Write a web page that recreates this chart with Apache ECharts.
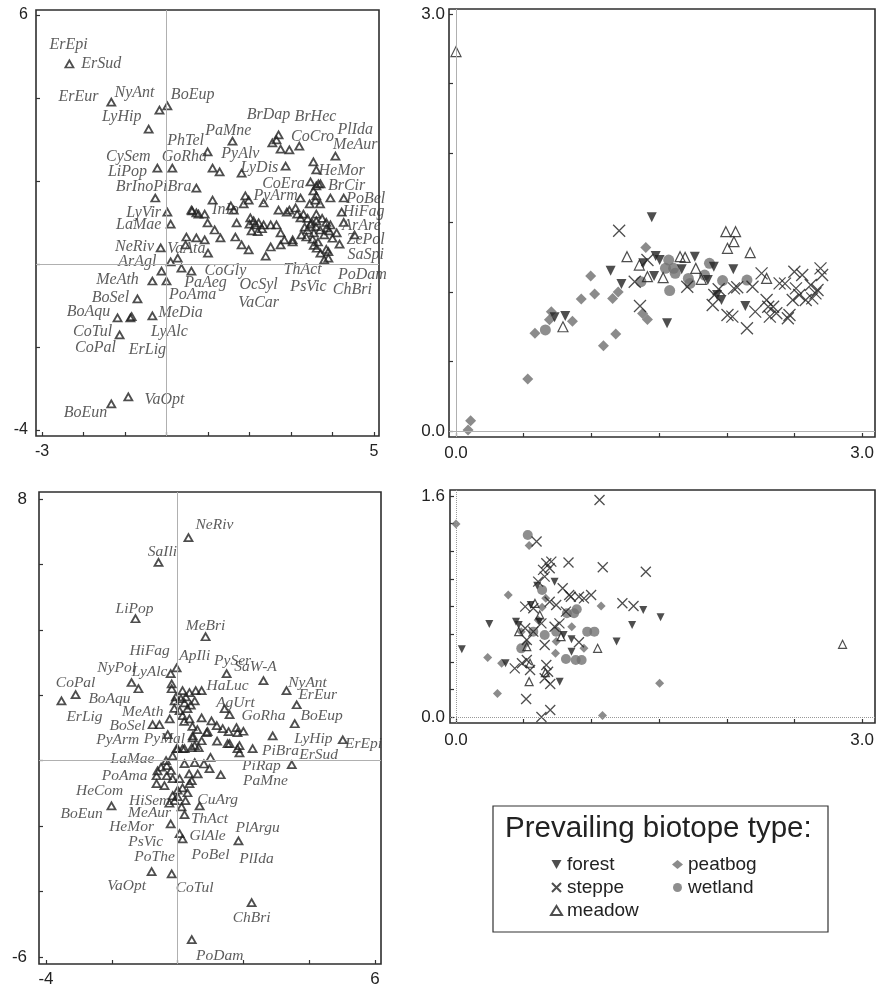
<!DOCTYPE html>
<html><head><meta charset="utf-8">
<script src="https://cdn.jsdelivr.net/npm/echarts@6/dist/echarts.min.js"></script>
<style>html,body{margin:0;padding:0;background:#fff}#c{width:877px;height:993px}</style>
</head><body><div id="c"></div>
<script>
// ---------- Top-left ordination (species, open triangles) ----------
var tlPts = [[-2.34,4.82],[-1.33,3.90],[-0.17,3.71],[0.02,3.81],[-0.43,3.25],[-0.22,2.31],[0.14,2.31],[-0.27,1.59],[0.72,1.83],[0.02,1.25],[0.60,1.30],[0.72,1.23],[0.10,0.96],[0.48,0.65],[-0.14,0.39],[0.27,0.14],[0.10,0.05],[-0.12,-0.17],[0.36,-0.10],[0.60,-0.17],[-0.34,-0.41],[0.0,-0.41],[-0.70,-0.84],[-1.18,-1.30],[-0.87,-1.30],[-0.84,-1.27],[-0.34,-1.25],[-1.13,-1.71],[-0.92,-3.20],[-1.33,-3.37],
[2.70,3.11],[2.65,2.99],[2.55,2.92],[1.59,2.96],[2.75,2.77],[2.96,2.75],[3.20,2.84],[4.07,2.60],[0.99,2.70],[1.11,2.31],[1.28,2.22],[1.81,2.19],[2.87,2.36],[3.54,2.46],[3.61,2.27],[3.47,1.98],[3.61,1.88],[3.66,1.93],[3.71,1.93],[3.54,1.76],[3.61,1.64],[1.90,1.64],[1.98,1.54],[1.86,1.45],[2.34,1.47],[3.23,1.59],[3.59,1.54],[3.95,1.59],[4.27,1.59],[1.11,1.54],[0.62,1.28],[0.77,1.20],[0.92,1.20],[2.96,1.30],[3.11,1.35],[3.15,1.20],[3.23,1.11],[3.61,1.20],[3.61,1.04],[4.22,1.25],[2.02,1.11],[2.10,1.04],[2.14,0.94],[2.00,0.96],[2.22,0.99],[0.99,0.99],[1.16,0.82],[1.69,0.99],[2.34,0.94],[2.51,0.94],[2.65,0.94],[2.75,0.75],[2.84,0.58],[3.04,0.53],[1.66,0.65],[1.30,0.63],[0.72,0.63],[0.92,0.58],[3.33,0.89],[3.47,0.96],[3.40,0.82],[3.55,0.75],[3.70,0.82],[3.80,0.70],[3.52,0.60],[3.65,0.53],[3.95,0.94],[3.86,0.87],[4.27,1.00],[4.53,0.70],[4.17,0.48],[3.71,0.26],[3.90,0.14],[3.90,0.30],[1.81,0.46],[1.98,0.34],[2.51,0.41],[2.39,0.19],[2.75,0.46],[3.04,0.58],[3.37,0.65],[3.25,0.70],[3.80,0.10],[2.05,0.80],[2.20,0.78],[2.30,0.85],[3.30,1.20],[3.40,1.10],[3.50,1.00],[3.60,0.90],[3.75,1.10],[3.85,1.00],[3.92,0.80],[3.55,0.45],[3.62,0.38],[3.85,0.35],[4.00,0.62],[4.10,0.75],[2.70,1.30],[2.90,1.25],[1.55,1.40],[1.62,1.30],[0.46,0.46],[1.00,0.26],[3.45,1.45],[3.70,1.45]];
var tlLabels = [['ErEpi',-2.36,5.28],['ErSud',-1.57,4.82],['ErEur',-2.12,4.02],['NyAnt',-0.77,4.12],['BoEup',0.63,4.07],['LyHip',-1.08,3.54],['PhTel',0.46,2.96],['PaMne',1.49,3.20],['BrDap',2.46,3.59],['BrHec',3.59,3.54],['CoCro',3.52,3.06],['PlIda',4.55,3.23],['MeAur',4.55,2.87],['CySem',-0.92,2.58],['GoRha',0.43,2.58],['PyAlv',1.78,2.65],['LyDis',2.24,2.31],['LiPop',-0.94,2.22],['HeMor',4.22,2.24],['BrInoPiBra',-0.31,1.86],['CoEra',2.82,1.93],['BrCir',4.34,1.88],['PyArm',2.63,1.64],['PoBel',4.80,1.57],['LyVir',-0.55,1.23],['InIo',1.42,1.30],['HiFag',4.75,1.25],['LaMae',-0.67,0.94],['ArAre',4.70,0.92],['ZePol',4.80,0.58],['NeRiv',-0.77,0.41],['VaAta',0.48,0.36],['SaSpi',4.80,0.22],['ArAgl',-0.70,0.05],['CoGly',1.42,-0.17],['ThAct',3.28,-0.14],['PoDam',4.72,-0.27],['MeAth',-1.18,-0.39],['PaAeg',0.94,-0.46],['PsVic',3.42,-0.55],['ChBri',4.48,-0.63],['OcSyl',2.22,-0.51],['PoAma',0.63,-0.75],['BoSel',-1.35,-0.82],['VaCar',2.22,-0.94],['BoAqu',-1.88,-1.16],['MeDia',0.34,-1.18],['CoTul',-1.78,-1.64],['LyAlc',0.07,-1.64],['CoPal',-1.71,-2.02],['ErLig',-0.46,-2.07],['VaOpt',-0.05,-3.28],['BoEun',-1.95,-3.59]];

// ---------- Bottom-left ordination ----------
var blPts = [[0.33,6.82],[-0.58,6.06],[-1.28,4.34],[0.85,3.79],[-0.03,2.84],[-0.21,2.66],[1.49,2.66],[2.61,2.45],[-1.40,2.39],[-1.19,2.20],[3.31,2.14],[-3.10,2.02],[-3.53,1.83],[3.62,1.71],[-0.18,2.35],[1.43,1.59],[1.58,1.41],[3.56,1.13],[2.89,0.76],[5.02,0.64],[0.73,1.31],[1.03,1.22],[1.19,1.07],[1.37,0.98],[1.79,1.01],[1.82,0.86],[1.58,0.52],[1.88,0.46],[2.28,0.37],[1.88,0.24],[0.88,0.86],[-0.18,2.20],[0.15,2.14],[0.36,2.08],[0.55,2.14],[0.73,2.14],[-0.09,1.83],[0.21,1.77],[0.52,1.83],[0.06,1.53],[0.30,1.59],[0.15,1.38],[0.36,1.28],[-0.24,1.28],[-0.76,1.10],[-0.55,1.10],[0.46,0.70],[0.73,0.61],[0,0.37],[0.21,0.37],[0.52,0.46],[0.46,0.76],[0.91,0.89],[1.55,0.89],[1.52,0.52],[1.82,0.37],[-0.03,0.37],[0.15,0.37],[0.43,0.40],[0.64,0.40],[-0.15,0.15],[3.47,-0.12],[0.21,-0.09],[0.52,-0.06],[-0.33,-0.15],[-0.61,-0.31],[0.97,-0.24],[1.31,-0.43],[0.61,-0.40],[-0.64,-0.46],[-0.33,-0.46],[0.06,-0.55],[-0.15,-0.55],[-0.64,-0.70],[-0.40,-0.76],[0.43,-0.61],[0.36,-0.70],[0.15,-0.83],[-0.15,-1.07],[0.30,-0.98],[-2.01,-1.38],[-0.09,-1.22],[0.12,-1.41],[0.24,-1.22],[0.67,-1.38],[0.21,-1.65],[-0.21,-1.93],[0.06,-2.23],[0.15,-2.39],[1.85,-2.45],[-0.79,-3.39],[-0.18,-3.46],[2.25,-4.34],[0.43,-5.47],
[-0.05,1.95],[0.10,1.90],[0.25,1.95],[0.40,1.70],[-0.10,1.60],[0.20,1.20],[0.45,1.05],[0.60,0.95],[-0.30,0.80],[-0.35,0.0],[-0.50,-0.20],[-0.20,-0.30],[0.0,-0.90],[-0.25,-1.30],[0.0,-1.10],[0.35,-0.40],[0.80,-0.10],[1.00,0.10],[1.20,0.60],[2.00,0.90]];
var blLabels = [['NeRiv',1.12,7.22],['SaIli',-0.46,6.39],['LiPop',-1.31,4.65],['MeBri',0.85,4.13],['HiFag',-0.85,3.36],['ApIli',0.52,3.21],['PySer',1.67,3.06],['NyPol',-1.85,2.84],['LyAlc',-0.85,2.72],['SaW-A',2.37,2.87],['CoPal',-3.10,2.39],['BoAqu',-2.07,1.90],['NyAnt',3.95,2.39],['HaLuc',1.52,2.29],['ErEur',4.26,2.02],['ErLig',-2.83,1.35],['AgUrt',1.76,1.77],['MeAth',-1.06,1.50],['GoRha',2.61,1.38],['BoEup',4.38,1.38],['BoSel',-1.52,1.07],['LyHip',4.13,0.67],['ErEpi',5.65,0.52],['PyArm',-1.82,0.64],['PyMal',-0.40,0.67],['PiBra',3.13,0.31],['ErSud',4.29,0.18],['LaMae',-1.37,0.06],['PiRap',2.55,-0.15],['PoAma',-1.61,-0.46],['PaMne',2.67,-0.61],['HeCom',-2.37,-0.92],['HiSem',-0.85,-1.22],['CuArg',1.22,-1.19],['BoEun',-2.92,-1.62],['MeAur',-0.85,-1.59],['ThAct',0.97,-1.77],['HeMor',-1.40,-2.02],['PlArgu',2.43,-2.05],['GlAle',0.91,-2.29],['PsVic',-0.97,-2.48],['PoThe',-0.70,-2.94],['PoBel',1.00,-2.87],['PlIda',2.40,-3.00],['VaOpt',-1.55,-3.82],['CoTul',0.52,-3.88],['ChBri',2.25,-4.80],['PoDam',1.28,-5.96]];

// ---------- Top-right: sites by biotope ----------
var trForest = [[1.446,1.537],[1.142,1.153],[1.222,1.058],[0.807,0.827],[0.728,0.818],[1.475,1.259],[1.504,1.23],[1.383,1.206],[1.463,1.115],[1.667,1.163],[1.764,1.254],[1.904,1.182],[2.048,1.163],[1.86,1.086],[1.961,0.942],[1.928,0.978],[1.559,0.775],[2.137,0.899]];
var trSteppe = [[1.205,1.441],[1.414,1.23],[1.32,1.074],[1.359,0.899],[1.708,1.038],[1.908,0.978],[1.896,0.906],[2.005,0.835],[2.041,0.823],[2.053,1.026],[2.077,1.034],[2.149,0.739],[2.21,0.859],[2.257,1.134],[2.294,0.942],[2.306,0.894],[2.318,0.823],[2.342,0.894],[2.39,1.062],[2.463,0.835],[2.451,0.811],[2.499,1.146],[2.557,1.122],[2.511,1.026],[2.535,0.978],[2.487,0.942],[2.583,0.942],[2.631,0.954],[2.655,0.99],[2.692,1.17],[2.704,1.122],[2.62,1.05],[2.67,1.014],[2.19,1.038],[2.366,0.847],[1.94,1.02],[2.43,1.06]];
var trMeadow = [[0,2.73],[1.263,1.254],[1.354,1.194],[1.414,1.11],[1.53,1.103],[1.655,1.254],[1.692,1.249],[1.771,1.17],[1.812,1.091],[1.993,1.434],[2.065,1.434],[2.053,1.362],[2.005,1.314],[2.173,1.283],[2.294,1.098],[0.79,0.75]];
var trPeatbog = [[0.108,0.074],[0.089,0.007],[0.53,0.374],[0.583,0.703],[0.704,0.858],[0.86,0.79],[0.925,0.95],[0.995,1.115],[1.024,0.986],[1.089,0.614],[1.18,0.698],[1.157,0.954],[1.198,1.0],[1.402,1.321],[1.378,0.846],[1.414,0.803],[0.69,0.80]];
var trWetland = [[0.66,0.727],[1.366,1.074],[1.571,1.23],[1.607,1.17],[1.619,1.134],[1.578,1.01],[1.716,1.098],[1.728,1.062],[1.872,1.206],[1.836,1.122],[1.969,1.082],[2.149,1.086],[1.547,1.17]];

// ---------- Bottom-right ----------
var brForest = [[0.043,0.49],[0.246,0.673],[0.443,0.69],[0.463,0.666],[0.552,0.811],[0.728,0.98],[0.614,0.69],[0.795,0.594],[0.853,0.562],[0.853,0.473],[0.766,0.256],[1.186,0.546],[1.301,0.666],[1.383,0.775],[1.511,0.722],[0.366,0.389],[0.60,0.95]];
var brSteppe = [[1.06,1.571],[0.595,1.27],[0.667,1.113],[0.704,1.125],[0.692,1.077],[0.831,1.118],[1.084,1.084],[1.402,1.052],[0.607,0.98],[0.655,1.016],[0.643,1.065],[0.788,0.932],[0.836,0.883],[0.848,0.871],[0.908,0.871],[0.945,0.859],[0.998,0.883],[1.229,0.823],[1.311,0.804],[0.511,0.799],[0.571,0.787],[0.692,0.835],[0.74,0.811],[0.812,0.763],[0.511,0.642],[0.571,0.618],[0.523,0.558],[0.631,0.678],[0.655,0.521],[0.728,0.654],[0.764,0.678],[0.908,0.541],[0.434,0.352],[0.487,0.389],[0.523,0.413],[0.547,0.34],[0.667,0.377],[0.68,0.328],[0.655,0.28],[0.696,0.239],[0.518,0.13],[0.631,0.0],[0.696,0.051]];
var brMeadow = [[0.583,0.823],[0.619,0.739],[0.463,0.618],[0.523,0.509],[0.547,0.389],[0.54,0.256],[0.66,0.321],[0.776,0.582],[1.046,0.497],[2.855,0.526]];
var brPeatbog = [[0,1.398],[0.54,1.241],[0.386,0.883],[0.234,0.43],[0.337,0.389],[0.306,0.171],[1.072,0.804],[0.855,0.654],[0.945,0.497],[0.735,0.461],[0.74,0.546],[0.663,0.859],[0.636,0.794],[1.504,0.244],[1.082,0.01],[0.482,0.618],[0.607,0.702],[0.518,0.533]];
var brWetland = [[0.53,1.318],[0.636,0.92],[0.892,0.78],[0.872,0.751],[0.969,0.618],[1.022,0.618],[0.812,0.42],[0.884,0.413],[0.928,0.413],[0.482,0.497],[0.655,0.594],[0.571,0.618],[0.74,0.618],[0.819,0.751]];

var legendCol1 = ['forest','steppe','meadow'];
var legendCol2 = ['peatbog','wetland'];
var legendTitle = 'Prevailing biotope type:';

// ---------- layout ----------
var panels = [
  {frame:{l:36,t:10,r:379,b:436}, tk:{l:42,t:15,r:374,b:430}, x:[-3,5,1], y:[-4,6,2], dec:0, fs:16, ym:8, xm:8, zero:'solid'},
  {frame:{l:449,t:9,r:875,b:437}, tk:{l:456,t:14,r:871,b:431}, x:[0,3,0.5], y:[0,3,0.5], dec:1, fs:17, ym:4, xm:8, zero:'solid'},
  {frame:{l:39,t:492,r:381,b:964}, tk:{l:46,t:499,r:375,b:957}, x:[-4,6,2], y:[-6,8,2], dec:0, fs:17, ym:12, xm:7, zero:'solid'},
  {frame:{l:450,t:490,r:875,b:723}, tk:{l:456,t:496,r:871,b:717}, x:[0,3,0.5], y:[0,1.6,0.2], dec:1, fs:17, ym:5, xm:9, zero:'dotted'}
];

function mmFmt(mn, mx, dec){
  return function(v){
    if (Math.abs(v-mn) < 1e-6) return mn.toFixed(dec);
    if (Math.abs(v-mx) < 1e-6) return mx.toFixed(dec);
    return '';
  };
}

var grids = [], xAxes = [], yAxes = [], series = [];
panels.forEach(function(p, i){
  var f = p.frame, t = p.tk;
  var sx = (t.r - t.l)/(p.x[1]-p.x[0]);
  var sy = (t.b - t.t)/(p.y[1]-p.y[0]);
  grids.push({left:f.l, top:f.t, width:f.r-f.l, height:f.b-f.t, show:true, borderColor:'#2e2e2e', borderWidth:1.6, backgroundColor:'transparent'});
  grids.push({left:t.l, top:t.t, width:t.r-t.l, height:t.b-t.t});
  xAxes.push({type:'value', gridIndex:2*i, show:false, min:p.x[0]-(t.l-f.l)/sx, max:p.x[1]+(f.r-t.r)/sx});
  yAxes.push({type:'value', gridIndex:2*i, show:false, min:p.y[0]-(f.b-t.b)/sy, max:p.y[1]+(t.t-f.t)/sy});
  var lab = {fontFamily:'Liberation Sans', fontSize:p.fs, color:'#222', showMinLabel:true, showMaxLabel:true};
  xAxes.push({type:'value', gridIndex:2*i+1, min:p.x[0], max:p.x[1], interval:p.x[2], offset:f.b-t.b,
    axisLine:{show:false, onZero:false}, splitLine:{show:false},
    axisTick:{show:true, inside:true, length:4, lineStyle:{color:'#333', width:1.2}},
    axisLabel:Object.assign({margin:p.xm, formatter:mmFmt(p.x[0],p.x[1],p.dec)}, lab)});
  yAxes.push({type:'value', gridIndex:2*i+1, min:p.y[0], max:p.y[1], interval:p.y[2], offset:t.l-f.l,
    axisLine:{show:false, onZero:false}, splitLine:{show:false},
    axisTick:{show:true, inside:true, length:4, lineStyle:{color:'#333', width:1.2}},
    axisLabel:Object.assign({margin:p.ym, formatter:mmFmt(p.y[0],p.y[1],p.dec)}, lab)});
  // zero lines on frame grid
  series.push({type:'scatter', name:'zero'+i, xAxisIndex:2*i, yAxisIndex:2*i, data:[[0,0]], symbolSize:0, silent:true, z:1,
    markLine:{silent:true, symbol:['none','none'], animation:false, label:{show:false},
      lineStyle:{color: p.zero==='dotted' ? '#999' : '#b0b0b0', width:1, type:p.zero},
      data:[{xAxis:0},{yAxis:0}]}});
});

function triSeries(name, pts, ax){
  return {type:'scatter', name:name, xAxisIndex:ax, yAxisIndex:ax, data:pts, symbol:'triangle', symbolSize:[8,7], z:3, clip:false,
    itemStyle:{color:'rgba(0,0,0,0)', borderColor:'#222', borderWidth:1.8}};
}
function labelSeries(name, labs, ax, fs){
  return {type:'scatter', name:name, xAxisIndex:ax, yAxisIndex:ax, symbolSize:1, z:4, clip:false, silent:true,
    itemStyle:{color:'rgba(0,0,0,0)'},
    label:{show:true, position:'inside', formatter:'{b}', fontFamily:'Liberation Serif', fontStyle:'italic', fontSize:fs, color:'#333'},
    data:labs.map(function(d){return {name:d[0], value:[d[1],d[2]]};})};
}
series.push(triSeries('tlPts', tlPts, 1));
series.push(labelSeries('tlLab', tlLabels, 1, 16));
series.push(triSeries('blPts', blPts, 5));
series.push(labelSeries('blLab', blLabels, 5, 15.5));

var SYM = {
  forest:{symbol:'path://M0,0L10,0L5,9Z', style:{color:'#222'}},
  steppe:{symbol:'path://M0,0L10,10M10,0L0,10', style:{color:'rgba(0,0,0,0)', borderColor:'#222', borderWidth:1.3}},
  meadow:{symbol:'triangle', style:{color:'rgba(0,0,0,0)', borderColor:'#222', borderWidth:1.2}},
  peatbog:{symbol:'diamond', style:{color:'#6e6e6e'}},
  wetland:{symbol:'circle', style:{color:'#727272'}}
};
function siteSeries(name, pts, ax, size){
  return {type:'scatter', name:name, xAxisIndex:ax, yAxisIndex:ax, data:pts, symbol:SYM[name].symbol, symbolSize:size, z:3, clip:false,
    itemStyle:SYM[name].style};
}
series.push(siteSeries('peatbog', trPeatbog, 3, 11));
series.push(siteSeries('wetland', trWetland, 3, 11));
series.push(siteSeries('forest', trForest, 3, 10));
series.push(siteSeries('meadow', trMeadow, 3, 10));
series.push(siteSeries('steppe', trSteppe, 3, 12));
series.push(siteSeries('peatbog', brPeatbog, 7, 9));
series.push(siteSeries('wetland', brWetland, 7, 10));
series.push(siteSeries('forest', brForest, 7, 8));
series.push(siteSeries('meadow', brMeadow, 7, 8));
series.push(siteSeries('steppe', brSteppe, 7, 10));

var legendText = {fontFamily:'Liberation Sans', fontSize:19, color:'#222'};
var option = {
  animation:false,
  backgroundColor:'#fff',
  grid:grids, xAxis:xAxes, yAxis:yAxes, series:series,
  title:{text:legendTitle, left:505, top:814, padding:0, textStyle:{fontFamily:'Liberation Sans', fontSize:29.5, fontWeight:'normal', color:'#222'}},
  legend:[
    {data:legendCol1, orient:'vertical', left:550, top:855, padding:0, itemGap:4, itemWidth:11, itemHeight:9, selectedMode:false, textStyle:legendText},
    {data:legendCol2, orient:'vertical', left:672, top:855, padding:0, itemGap:4, itemWidth:11, itemHeight:9, selectedMode:false, textStyle:legendText}
  ],
  graphic:[{type:'rect', shape:{x:493, y:806, width:335, height:126}, style:{fill:'none', stroke:'#333', lineWidth:1.2}, silent:true}]
};
var chart = echarts.init(document.getElementById('c'));
chart.setOption(option);
</script>
</body></html>
